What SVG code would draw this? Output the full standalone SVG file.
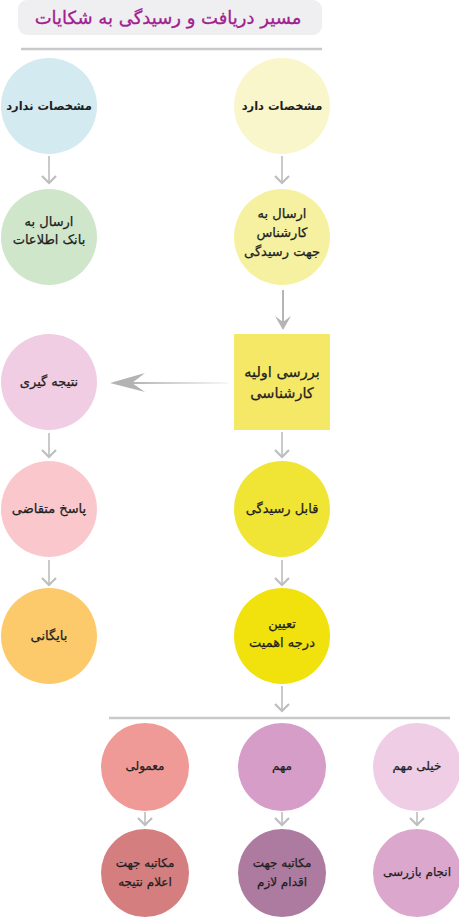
<svg xmlns="http://www.w3.org/2000/svg" width="459" height="917" viewBox="0 0 459 917">
<defs>
<linearGradient id="fadeH" x1="0" y1="0" x2="1" y2="0">
<stop offset="0" stop-color="#b3b3b3"/>
<stop offset="1" stop-color="#b3b3b3" stop-opacity="0.1"/>
</linearGradient>
</defs>
<style>
text{font-family:"DejaVu Sans","Noto Sans",sans-serif;font-size:13px;fill:#1e1e1e;stroke:#1e1e1e;stroke-width:0.25;text-anchor:middle;direction:rtl}
.big{font-size:14.5px}
.sm{font-size:12px}
.b{font-weight:bold;font-size:11.5px;stroke-width:0}
.title{font-size:18px;fill:#a0208f;stroke:#a0208f;stroke-width:0.3}
.ln{stroke:#bdbdbd;stroke-width:1.6;fill:none}
.hd{stroke:#bdbdbd;stroke-width:2.2;fill:none;stroke-linejoin:miter}
</style>
<rect x="18" y="0" width="304" height="35" rx="9" fill="#efeff1"/>
<text class="title" x="168" y="24">مسیر دریافت و رسیدگی به شکایات</text>
<line x1="21" y1="49" x2="322" y2="49" stroke="#c9c9cc" stroke-width="2.5"/>

<g id="connectors">
<line class="ln" x1="49" y1="156" x2="49" y2="183"/><path class="hd" d="M42 176 L49 183 L56 176"/>
<line class="ln" x1="282" y1="156" x2="282" y2="183"/><path class="hd" d="M275 176 L282 183 L289 176"/>
<line class="ln" x1="49" y1="433" x2="49" y2="457"/><path class="hd" d="M42 450 L49 457 L56 450"/>
<line class="ln" x1="282" y1="432" x2="282" y2="457"/><path class="hd" d="M275 450 L282 457 L289 450"/>
<line class="ln" x1="49" y1="560" x2="49" y2="585"/><path class="hd" d="M42 578 L49 585 L56 578"/>
<line class="ln" x1="282" y1="560" x2="282" y2="585"/><path class="hd" d="M275 578 L282 585 L289 578"/>
<line class="ln" x1="282" y1="686" x2="282" y2="711"/><path class="hd" d="M275 704 L282 711 L289 704"/>
<line x1="109" y1="718" x2="450" y2="718" stroke="#c9c9cc" stroke-width="2.5"/>
<line class="ln" x1="145" y1="812" x2="145" y2="825"/><path class="hd" d="M138 818 L145 825 L152 818"/>
<line class="ln" x1="282" y1="812" x2="282" y2="825"/><path class="hd" d="M275 818 L282 825 L289 818"/>
<line class="ln" x1="417" y1="812" x2="417" y2="825"/><path class="hd" d="M410 818 L417 825 L424 818"/>
<line x1="283" y1="290" x2="283" y2="322" stroke="#b5b5b5" stroke-width="2"/>
<path d="M275 316 L283 330 L291 316 L283 322 Z" fill="#b5b5b5"/>
<rect x="130" y="382" width="98" height="2" fill="url(#fadeH)"/>
<path d="M110 383 L145 373 L132 383 L145 392 Z" fill="#b3b3b3"/>
</g>

<g id="n1"><circle cx="49" cy="106" r="48" fill="#d3eaf0"/><text class="b" x="49" y="110">مشخصات ندارد</text></g>
<g id="n2"><circle cx="282" cy="106" r="48" fill="#f8f6ca"/><text class="b" x="282" y="110">مشخصات دارد</text></g>
<g id="n3"><circle cx="49" cy="237" r="48" fill="#cfe6cb"/><text x="49" y="226">ارسال به</text><text x="49" y="244">بانک اطلاعات</text></g>
<g id="n4"><circle cx="282" cy="237" r="48" fill="#f5f1a0"/><text x="282" y="218">ارسال به</text><text x="282" y="237">کارشناس</text><text x="282" y="256">جهت رسیدگی</text></g>
<g id="n5"><rect x="234" y="334" width="96" height="96" fill="#f5e866"/><text class="big" x="282" y="377">بررسی اولیه</text><text class="big" x="282" y="398">کارشناسی</text></g>
<g id="n6"><circle cx="49" cy="382" r="48" fill="#f0cde2"/><text x="49" y="386">نتیجه گیری</text></g>
<g id="n7"><circle cx="49" cy="509" r="48" fill="#fac8cc"/><text x="49" y="513">پاسخ متقاضی</text></g>
<g id="n8"><circle cx="282" cy="509" r="48" fill="#f0e534"/><text x="282" y="513">قابل رسیدگی</text></g>
<g id="n9"><circle cx="49" cy="636" r="48" fill="#fdca6b"/><text x="49" y="640">بایگانی</text></g>
<g id="n10"><circle cx="282" cy="636" r="48" fill="#f1e20e"/><text x="282" y="628">تعیین</text><text x="282" y="647">درجه اهمیت</text></g>
<g id="n11"><circle cx="145" cy="767" r="44" fill="#f09a97"/><text class="sm" x="145" y="770">معمولی</text></g>
<g id="n12"><circle cx="282" cy="767" r="44" fill="#d69dc8"/><text class="sm" x="282" y="770">مهم</text></g>
<g id="n13"><circle cx="417" cy="767" r="44" fill="#efcde5"/><text class="sm" x="417" y="770">خیلی مهم</text></g>
<g id="n14"><circle cx="145" cy="873" r="44" fill="#d47e80"/><text class="sm" x="145" y="867">مکاتبه جهت</text><text class="sm" x="145" y="886">اعلام نتیجه</text></g>
<g id="n15"><circle cx="282" cy="873" r="44" fill="#ad7b9f"/><text class="sm" x="282" y="867">مکاتبه جهت</text><text class="sm" x="282" y="886">اقدام لازم</text></g>
<g id="n16"><circle cx="417" cy="873" r="44" fill="#dca7cd"/><text class="sm" x="417" y="876">انجام بازرسی</text></g>
</svg>
